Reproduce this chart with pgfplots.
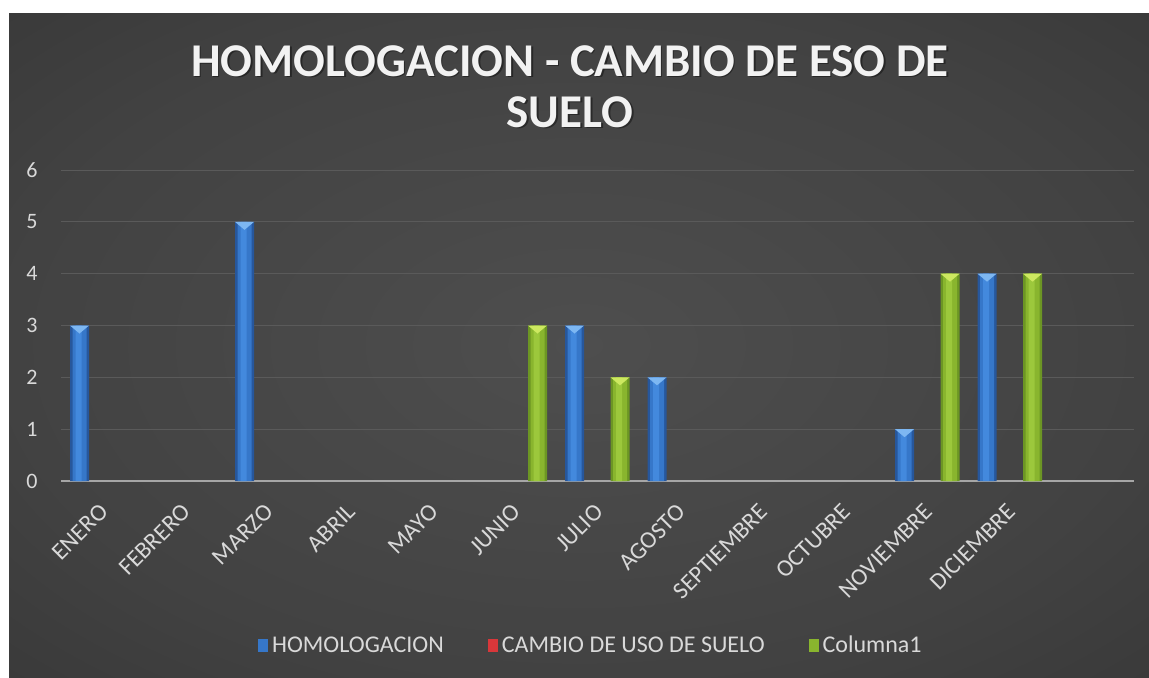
\documentclass[border=0pt]{standalone}
\usepackage{fontspec}
\setmainfont{Carlito}
\usepackage{pgfplots}
\usepackage{pgfplotstable}
\pgfplotsset{compat=1.18}

\newdimen\px \px=0.5pt

\definecolor{bgA}{HTML}{4E4E4E}
\definecolor{bgB}{HTML}{424242}
\definecolor{bgC}{HTML}{2F2F2F}
\definecolor{bgD}{HTML}{232323}
\definecolor{gridcol}{HTML}{5A5A5A}
\definecolor{zerocol}{HTML}{A6A6A6}
\definecolor{textcol}{HTML}{D9D9D9}
\definecolor{blueDark}{HTML}{27579C}
\definecolor{blueMid}{HTML}{3677C9}
\definecolor{blueLight}{HTML}{4389DD}
\definecolor{blueChev}{HTML}{7DB7F2}
\definecolor{greenDark}{HTML}{6C9624}
\definecolor{greenMid}{HTML}{89B52E}
\definecolor{greenLight}{HTML}{9CC83C}
\definecolor{greenChev}{HTML}{CDE860}
\definecolor{redMid}{HTML}{D8373A}
\definecolor{redDark}{HTML}{9E1F22}

\pgfdeclareradialshading{bgshade}{\pgfpoint{0bp}{0bp}}{%
  color(0bp)=(bgA); color(25bp)=(bgB); color(50bp)=(bgC); color(72bp)=(bgD)}

% chevron on top of each bar
\pgfdeclareplotmark{chev}{%
  \pgfpathmoveto{\pgfpoint{-9.5\px}{0pt}}%
  \pgfpathlineto{\pgfpoint{9.5\px}{0pt}}%
  \pgfpathlineto{\pgfpoint{0pt}{-8\px}}%
  \pgfpathclose
  \pgfusepathqfill}

% month index (0 = ENERO), value; months with 0 draw nothing
\pgfplotstableread{
x y
0 3
2 5
6 3
7 2
10 1
11 4
}\homologacion
\pgfplotstableread{
x y
5 3
6 2
10 4
11 4
}\columnauno

\begin{document}
\begin{tikzpicture}
\fill[white] (0,0) rectangle (1149\px,677\px);
\shade[shading=bgshade] (9\px,0) rectangle (1149\px,664\px);

% title
\foreach \txt/\yy in {{HOMOLOGACION - CAMBIO DE ESO DE}/601, {SUELO}/550}{
  \node[anchor=base, text=black, opacity=0.4, inner sep=0pt,
        font=\fontsize{23.5pt}{26pt}\selectfont\bfseries]
        at (571.5\px,\yy\px-1.5\px) {\txt};
  \node[anchor=base, text=white!95!black, inner sep=0pt,
        font=\fontsize{23.5pt}{26pt}\selectfont\bfseries]
        at (570\px,\yy\px) {\txt};
}

\begin{axis}[
  at={(61\px,196\px)}, anchor=south west,
  scale only axis, width=1072.5\px, height=311\px,
  xmin=-0.5, xmax=12.5, ymin=0, ymax=6,
  axis x line=bottom, axis y line=left,
  x axis line style={draw=zerocol, line width=2.2\px, -},
  y axis line style={draw=none},
  ymajorgrids, grid style={draw=gridcol, line width=1\px},
  major tick length=0pt,
  xtick={0,...,11},
  xticklabels={ENERO,FEBRERO,MARZO,ABRIL,MAYO,JUNIO,JULIO,AGOSTO,SEPTIEMBRE,OCTUBRE,NOVIEMBRE,DICIEMBRE},
  ytick={0,...,6},
  /pgf/number format/assume math mode=true,
  tick label style={text=textcol},
  yticklabel style={font=\fontsize{11pt}{13pt}\selectfont, anchor=east, inner sep=0pt, xshift=-23\px},
  xticklabel style={font=\fontsize{12pt}{14pt}\selectfont, xshift=-4\px, yshift=-21\px, rotate=45, anchor=north east, inner sep=0pt},
  legend columns=3,
  legend style={at={(0.495,-0.5305)}, anchor=center, draw=none, fill=none,
    font=\fontsize{12pt}{14pt}\selectfont, text=textcol,
    /tikz/every even column/.append style={column sep=40\px}},
  legend image code/.code={\fill[#1] (0\px,-6.5\px) rectangle (10\px,6.5\px);},
  clip=false,
]
% HOMOLOGACION: dark edge, body, highlight, chevron
\addplot[ybar, bar width=19\px, bar shift=0pt, xshift=-22.75\px, draw=none, fill=blueDark, forget plot]
  table {\homologacion};
\addplot[ybar, bar width=14\px, bar shift=0pt, xshift=-22.75\px, draw=none, fill=blueMid]
  table {\homologacion};
\addplot[ybar, bar width=6\px, bar shift=0pt, xshift=-23.75\px, draw=none, fill=blueLight, forget plot,
  mark=chev, mark options={fill=blueChev, draw=none, xshift=1\px}]
  table {\homologacion};
% CAMBIO DE USO DE SUELO: no values above zero
\addlegendimage{fill=redMid, draw=none}
% Columna1
\addplot[ybar, bar width=19\px, bar shift=0pt, xshift=22.75\px, draw=none, fill=greenDark, forget plot]
  table {\columnauno};
\addplot[ybar, bar width=14\px, bar shift=0pt, xshift=22.75\px, draw=none, fill=greenMid]
  table {\columnauno};
\addplot[ybar, bar width=6\px, bar shift=0pt, xshift=21.75\px, draw=none, fill=greenLight, forget plot,
  mark=chev, mark options={fill=greenChev, draw=none, xshift=1\px}]
  table {\columnauno};
\legend{HOMOLOGACION, CAMBIO DE USO DE SUELO, Columna1}
\end{axis}
\end{tikzpicture}
\end{document}
